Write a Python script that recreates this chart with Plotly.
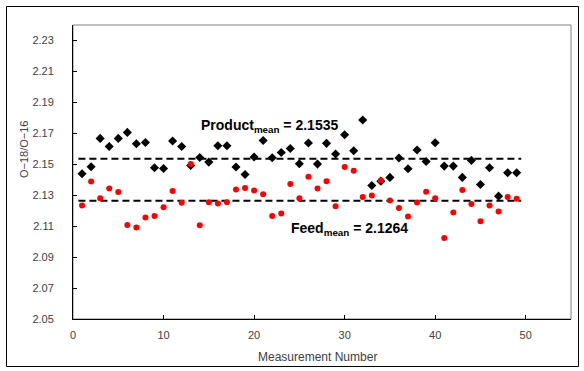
import plotly.graph_objects as go

measurement = list(range(1, 50))
product = [2.1439, 2.1484, 2.1667, 2.1615, 2.1667, 2.1706, 2.1633, 2.1641, 2.1477, 2.1473,
           2.1650, 2.1615, 2.1492, 2.1544, 2.1514, 2.1620, 2.1620, 2.1482, 2.1434, 2.1547,
           2.1654, 2.1542, 2.1576, 2.1602, 2.1503, 2.1637, 2.1501, 2.1635, 2.1566, 2.1691,
           2.1587, 2.1786, 2.1363, 2.1391, 2.1415, 2.1540, 2.1471, 2.1592, 2.1518, 2.1639,
           2.1488, 2.1488, 2.1415, 2.1525, 2.1369, 2.1477, 2.1294, 2.1445, 2.1445]
feed = [2.1233, 2.1389, 2.1281, 2.1343, 2.1320, 2.1108, 2.1091, 2.1156, 2.1165, 2.1223,
        2.1327, 2.1251, 2.1501, 2.1106, 2.1255, 2.1246, 2.1255, 2.1337, 2.1346, 2.1330,
        2.1307, 2.1165, 2.1182, 2.1372, 2.1281, 2.1419, 2.1343, 2.1391, 2.1229, 2.1482,
        2.1458, 2.1288, 2.1298, 2.1395, 2.1266, 2.1218, 2.1162, 2.1253, 2.1322, 2.1281,
        2.1024, 2.1188, 2.1333, 2.1244, 2.1132, 2.1233, 2.1195, 2.1288, 2.1277]
product_mean = 2.1535
feed_mean = 2.1264
mean_line_x = [0.6, 49.5]
y_ticks = [2.05, 2.07, 2.09, 2.11, 2.13, 2.15, 2.17, 2.19, 2.21, 2.23]
x_ticks = [0, 10, 20, 30, 40, 50]

W, H = 584, 371
ML, MR, MT, MB = 73, 13, 25, 52
pw, ph = W - ML - MR, H - MT - MB

def px_to_paper_x(px):
    return (px - ML) / pw

def px_to_paper_y(py):
    return (H - MB - py) / ph

fig = go.Figure()
fig.add_trace(go.Scatter(x=mean_line_x, y=[product_mean] * 2, mode="lines",
                         line=dict(color="black", width=2, dash="7px,4px"), hoverinfo="skip"))
fig.add_trace(go.Scatter(x=mean_line_x, y=[feed_mean] * 2, mode="lines",
                         line=dict(color="black", width=2, dash="7px,4px"), hoverinfo="skip"))
fig.add_trace(go.Scatter(x=measurement, y=product, mode="markers",
                         marker=dict(symbol="diamond", size=7, color="black")))
fig.add_trace(go.Scatter(x=measurement, y=feed, mode="markers",
                         marker=dict(symbol="circle", size=6, color="#FF0000")))

tickfont = dict(family="Liberation Sans, Arial, sans-serif", size=11, color="#404040")
fig.update_layout(
    width=W, height=H,
    margin=dict(l=ML, r=MR, t=MT, b=MB, pad=0),
    paper_bgcolor="white", plot_bgcolor="white",
    showlegend=False,
    xaxis=dict(range=[0, 55], tickvals=x_ticks, ticks="inside", ticklen=4, tickcolor="black",
               showline=True, linecolor="black", linewidth=1, showgrid=False, zeroline=False,
               tickfont=tickfont, ticklabelstandoff=6),
    yaxis=dict(range=[2.05, 2.24], tickvals=y_ticks, tickformat=".2f", ticks="inside", ticklen=4,
               tickcolor="black", showline=True, linecolor="black", linewidth=1, showgrid=False,
               zeroline=False, tickfont=tickfont, ticklabelstandoff=16),
    shapes=[
        dict(type="rect", xref="paper", yref="paper", x0=0, x1=1, y0=0, y1=1,
             line=dict(color="#808080", width=1), layer="below"),
        dict(type="rect", xref="paper", yref="paper",
             x0=px_to_paper_x(6.5), x1=px_to_paper_x(578.5),
             y0=px_to_paper_y(366.5), y1=px_to_paper_y(6.5),
             line=dict(color="black", width=1), layer="above"),
    ],
    annotations=[
        dict(text="Product<sub>mean</sub> = 2.1535", x=21.7, y=2.1749, xref="x", yref="y",
             showarrow=False, xanchor="center", yanchor="middle",
             font=dict(family="Liberation Sans, Arial, sans-serif", size=14, color="black", weight="bold")),
        dict(text="Feed<sub>mean</sub> = 2.1264", x=30.5, y=2.1079, xref="x", yref="y",
             showarrow=False, xanchor="center", yanchor="middle",
             font=dict(family="Liberation Sans, Arial, sans-serif", size=14, color="black", weight="bold")),
        dict(text="Measurement Number", x=px_to_paper_x(317), y=px_to_paper_y(357),
             xref="paper", yref="paper", showarrow=False, xanchor="center", yanchor="middle",
             font=dict(family="Liberation Sans, Arial, sans-serif", size=12, color="#404040")),
        dict(text="O\u221218/O\u221216", x=px_to_paper_x(24), y=px_to_paper_y(149), textangle=-90,
             xref="paper", yref="paper", showarrow=False, xanchor="center", yanchor="middle",
             font=dict(family="Liberation Sans, Arial, sans-serif", size=11, color="#404040")),
    ],
)
fig.write_html("out.html", config={"displayModeBar": False},
               post_script="document.body.style.margin='0';document.body.style.padding='0';")
